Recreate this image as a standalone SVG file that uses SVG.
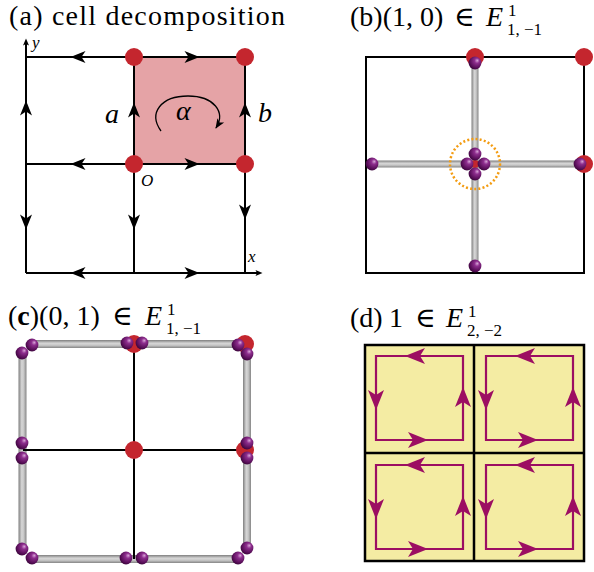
<svg xmlns="http://www.w3.org/2000/svg" xmlns:xlink="http://www.w3.org/1999/xlink" width="594" height="572" viewBox="0 0 594 572">
<style>
.t{font-family:"Liberation Serif","DejaVu Serif",serif;font-size:28px;fill:#000}
.s{font-family:"Liberation Serif","DejaVu Serif",serif;font-size:17px;fill:#000}
.i{font-style:italic}
.ln{stroke:#000;stroke-width:2;fill:none}
.red{fill:#c4262e}
.ar{fill:#000}
.pl{stroke:#9c0e62;stroke-width:2.2;fill:none}
.ph{fill:#9c0e62}
</style>
<defs>
<linearGradient id="gh" x1="0" y1="0" x2="0" y2="1">
<stop offset="0" stop-color="#7e7e7e"/><stop offset="0.4" stop-color="#d6d6d6"/><stop offset="0.65" stop-color="#c8c8c8"/><stop offset="1" stop-color="#858585"/>
</linearGradient>
<linearGradient id="gv" x1="0" y1="0" x2="1" y2="0">
<stop offset="0" stop-color="#7e7e7e"/><stop offset="0.4" stop-color="#d6d6d6"/><stop offset="0.65" stop-color="#c8c8c8"/><stop offset="1" stop-color="#858585"/>
</linearGradient>
<radialGradient id="bg" cx="0.6" cy="0.38" r="0.65" fx="0.68" fy="0.3">
<stop offset="0" stop-color="#d9a6d9"/><stop offset="0.3" stop-color="#8e2e8e"/><stop offset="0.8" stop-color="#560d56"/><stop offset="1" stop-color="#3a063a"/>
</radialGradient>
<circle id="ball" r="6.4" fill="url(#bg)"/>
<path id="ah" d="M7.5,0 L-7.5,-6 L-3.5,0 L-7.5,6 Z"/>
<path id="ph" d="M10,0 L-10,-8 L-5,0 L-10,8 Z"/>
<path id="sah" d="M3.5,0 L-3.5,-3 L-2,0 L-3.5,3 Z"/>
<marker id="cm" markerWidth="12" markerHeight="12" refX="4" refY="0" viewBox="-6 -6 12 12" orient="auto" markerUnits="userSpaceOnUse">
<path d="M5,0 L-5,-4 L-2.5,0 L-5,4 Z" fill="#000"/>
</marker>
</defs>
<rect width="594" height="572" fill="#fff"/>

<!-- Panel (a) -->
<g id="panel-a">
<text class="t" x="9" y="25" font-size="29" textLength="276" lengthAdjust="spacing">(a) cell decomposition</text>
<rect id="cell-alpha" x="134" y="57" width="111" height="107" fill="#e5a3a6"/>
<g id="connectors-a">
<path class="ln" d="M26,57 H245 M26,164 H245 M26,273 H245 M26,57 V273 M134,57 V273 M245,57 V273"/>
<path class="ln" d="M26,273 V42 M26,273 H258" stroke-width="1.3"/>
<use href="#sah" transform="translate(26,42) rotate(-90)"/>
<use href="#sah" transform="translate(259,273)"/>
<g class="ar">
<use href="#ah" transform="translate(78,57) rotate(180)"/>
<use href="#ah" transform="translate(192,57)"/>
<use href="#ah" transform="translate(78,164) rotate(180)"/>
<use href="#ah" transform="translate(192,164)"/>
<use href="#ah" transform="translate(78,273) rotate(180)"/>
<use href="#ah" transform="translate(192,273)"/>
<use href="#ah" transform="translate(26,108) rotate(-90)"/>
<use href="#ah" transform="translate(26,222) rotate(90)"/>
<use href="#ah" transform="translate(134,110) rotate(-90)"/>
<use href="#ah" transform="translate(134,222) rotate(90)"/>
<use href="#ah" transform="translate(245,110) rotate(-90)"/>
<use href="#ah" transform="translate(245,212) rotate(90)"/>
</g>
<path d="M161,131 C148,113 161,96 188,96 C214,96 226,112 216,128" fill="none" stroke="#000" stroke-width="1.3" marker-end="url(#cm)"/>
</g>
<g id="nodes-a">
<circle class="red" cx="134" cy="57" r="9"/>
<circle class="red" cx="245" cy="57" r="9"/>
<circle class="red" cx="134" cy="164" r="9"/>
<circle class="red" cx="245" cy="164" r="9"/>
</g>
<text class="t i" x="105" y="123" font-size="31">a</text>
<text class="t i" x="258" y="122" font-size="29">b</text>
<text class="t i" x="176" y="120" font-size="37">α</text>
<text class="s i" x="141" y="186" font-size="19">O</text>
<text class="s i" x="32" y="48">y</text>
<text class="s i" x="248" y="262">x</text>
</g>

<!-- Panel (b) -->
<g id="panel-b">
<text class="t" x="350" y="26">(b)(1, 0)</text>
<text class="t" x="454" y="26" font-size="26">∈</text>
<text class="t i" x="486" y="26" font-size="29">E</text>
<text class="s" x="508" y="16">1</text>
<text class="s" x="507" y="35">1, −1</text>
<rect class="ln" x="366" y="57" width="218" height="216"/>
<g id="connectors-b">
<rect x="471.5" y="63" width="7" height="203" fill="url(#gv)"/>
<rect x="372" y="160.5" width="208" height="7" fill="url(#gh)"/>
</g>
<g id="nodes-b">
<circle class="red" cx="475" cy="57" r="9"/>
<circle class="red" cx="584" cy="57" r="9"/>
<circle class="red" cx="584" cy="164" r="9"/>
<circle class="red" cx="475" cy="164" r="4"/>
<use href="#ball" x="475" y="63"/>
<use href="#ball" x="475" y="266"/>
<use href="#ball" x="372" y="164"/>
<use href="#ball" x="580" y="164"/>
<use href="#ball" x="475" y="154"/>
<use href="#ball" x="467" y="164"/>
<use href="#ball" x="484" y="164"/>
<use href="#ball" x="475" y="174"/>
<circle cx="475" cy="164" r="25" fill="none" stroke="#f39c12" stroke-width="2.5" stroke-dasharray="2 2.2"/>
</g>
</g>

<!-- Panel (c) -->
<g id="panel-c">
<text class="t" x="8" y="325">(<tspan font-weight="bold">c</tspan>)(0, 1)</text>
<text class="t" x="112" y="325" font-size="26">∈</text>
<text class="t i" x="145" y="325" font-size="29">E</text>
<text class="s" x="167" y="315">1</text>
<text class="s" x="166" y="334">1, −1</text>
<g id="connectors-c">
<rect x="32" y="340" width="208" height="8" fill="url(#gh)"/>
<rect x="32" y="555" width="208" height="8" fill="url(#gh)"/>
<rect x="18.5" y="352" width="8" height="197" fill="url(#gv)"/>
<rect x="243" y="352" width="8" height="197" fill="url(#gv)"/>
<path class="ln" d="M134,344 V559 M23,450 H247"/>
</g>
<g id="nodes-c">
<circle class="red" cx="134" cy="344" r="9"/>
<circle class="red" cx="245" cy="344" r="9"/>
<circle class="red" cx="134" cy="450" r="9"/>
<circle class="red" cx="245" cy="450" r="9"/>
<use href="#ball" x="32" y="345"/>
<use href="#ball" x="22" y="353"/>
<use href="#ball" x="127" y="343"/>
<use href="#ball" x="142" y="343"/>
<use href="#ball" x="238" y="345"/>
<use href="#ball" x="247" y="354"/>
<use href="#ball" x="22" y="443"/>
<use href="#ball" x="22" y="458"/>
<use href="#ball" x="247" y="443"/>
<use href="#ball" x="247" y="458"/>
<use href="#ball" x="22" y="549"/>
<use href="#ball" x="32" y="558"/>
<use href="#ball" x="126" y="558"/>
<use href="#ball" x="142" y="558"/>
<use href="#ball" x="238" y="558"/>
<use href="#ball" x="247" y="548"/>
</g>
</g>

<!-- Panel (d) -->
<g id="panel-d">
<text class="t" x="350" y="327">(d)</text>
<text class="t" x="389" y="327">1</text>
<text class="t" x="415" y="327" font-size="26">∈</text>
<text class="t i" x="446" y="327" font-size="29">E</text>
<text class="s" x="468" y="317">1</text>
<text class="s" x="467" y="336">2, −2</text>
<rect x="365" y="345" width="219" height="216" fill="#f4eca3" stroke="#000" stroke-width="2.5"/>
<path d="M474,345 V561 M365,453 H584" stroke="#000" stroke-width="2.5"/>
<g id="connectors-d">
<path class="pl" d="M376,356 H463 V440 H376 Z"/>
<path class="pl" d="M486,356 H573 V440 H486 Z"/>
<path class="pl" d="M376,465 H463 V549 H376 Z"/>
<path class="pl" d="M486,465 H573 V549 H486 Z"/>
<g class="ph">
<use href="#ph" transform="translate(415,356) rotate(180)"/>
<use href="#ph" transform="translate(376,400) rotate(90)"/>
<use href="#ph" transform="translate(418,440)"/>
<use href="#ph" transform="translate(463,397) rotate(-90)"/>
<use href="#ph" transform="translate(525,356) rotate(180)"/>
<use href="#ph" transform="translate(486,400) rotate(90)"/>
<use href="#ph" transform="translate(528,440)"/>
<use href="#ph" transform="translate(573,397) rotate(-90)"/>
<use href="#ph" transform="translate(415,465) rotate(180)"/>
<use href="#ph" transform="translate(376,509) rotate(90)"/>
<use href="#ph" transform="translate(418,549)"/>
<use href="#ph" transform="translate(463,506) rotate(-90)"/>
<use href="#ph" transform="translate(525,465) rotate(180)"/>
<use href="#ph" transform="translate(486,509) rotate(90)"/>
<use href="#ph" transform="translate(528,549)"/>
<use href="#ph" transform="translate(573,506) rotate(-90)"/>
</g>
</g>
</g>
</svg>
